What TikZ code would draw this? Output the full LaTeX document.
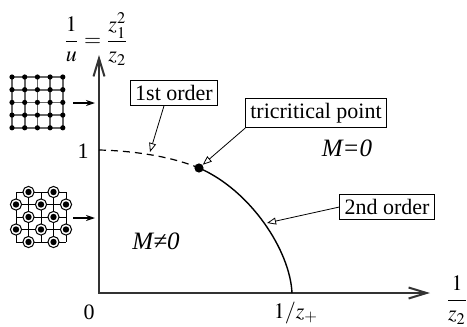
\documentclass[tikz,border=0pt]{standalone}
\usepackage{amsmath}
\usepackage{mathptmx}
\usepackage{fontspec}
\setmainfont{Liberation Serif}
\usetikzlibrary{arrows.meta,positioning}
\tikzset{
  axis/.style={line width=1pt,draw=black!80,{Straight Barb[length=9pt,width=5.5pt]}-{Straight Barb[length=9pt,width=5.5pt]}},
  labelbox/.style={draw,line width=0.5pt,inner sep=2.3pt,fill=white},
  pointer/.style={line width=0.4pt,-{Triangle[open,length=4.5pt,width=3.5pt]}},
  latArrow/.style={line width=0.6pt,-{Stealth[length=4.5pt,width=3pt]}},
  firstLine/.style={dashed,dash pattern=on 3.5pt off 2.5pt,line width=0.6pt},
  secondLine/.style={line width=0.7pt},
  tcpdot/.style={circle,fill,inner sep=0pt,minimum size=4.6pt},
  phase/.style={font=\fontsize{12.5}{14}\selectfont\itshape},
  latline/.style={line width=0.8pt,draw=black!60},
  latline2/.style={line width=0.5pt,draw=black}
}
\begin{document}
\begin{tikzpicture}[x=0.5pt,y=-0.5pt,font=\fontsize{11}{13}\selectfont]
  \useasboundingbox (0,0) rectangle (467,327);

  % axes
  \coordinate (O) at (99,293); \coordinate (ytip) at (99,55); \coordinate (xtip) at (430,293);
  \draw[axis] (ytip) -- (O) -- (xtip);
  \node (ylab) at (96,39) {$\dfrac{1}{u}=\dfrac{z_1^2}{z_2}$};
  \node (xlab) at (457,300) {$\dfrac{1}{z_2}$};
  \node (one) at (83,151) {1};
  \node (zero) at (89,312) {0};
  \node (xcrit) at (296,313) {$1/z_+$};

  % phase boundary: dashed 1st order, solid 2nd order
  \coordinate (u1) at (99,150); \coordinate (xc0) at (292,293);
  \node[tcpdot] (tcp) at (199,168) {};
  \draw[firstLine] (u1) .. controls (140,151) and (175,158) .. (tcp.center);
  \draw[secondLine] (tcp.center) .. controls (250,190) and (290,250) .. (xc0);
  \node[phase] (mzero) at (347,148) {M=0};
  \node[phase] (mnonzero) at (156,241) {M≠0};

  % labels with pointers
  \node[labelbox] (first) at (174,93) {1st order};
  \node[labelbox] (tcpbox) at (316,113) {tricritical point};
  \node[labelbox] (second) at (387,207) {2nd order};
  \coordinate (firsttip) at (150,152); \coordinate (secondtip) at (267,223);
  \draw[pointer] ([xshift=-5pt]first.south) -- (firsttip);
  \draw[pointer] (tcpbox.south west) -- (tcp);
  \draw[pointer] (second.west) -- (secondtip);

  % lattice 1: plain square lattice
  \foreach \i in {0,...,4}{\draw[latline] (12+12.7*\i,77)--(12+12.7*\i,128); \draw[latline] (12,77+12.7*\i)--(63,77+12.7*\i);}
  \foreach \i in {0,...,4}{\foreach \j in {0,...,4}{\fill (12+12.7*\i,77+12.7*\j) circle (2.6);}}
  \coordinate (latA) at (73,103); \coordinate (axA) at (95,103);
  \draw[latArrow] (latA) -- (axA);

  % lattice 2: checkerboard occupied sites
  \foreach \i in {0,...,4}{\draw[latline2] (16+12.5*\i,192)--(16+12.5*\i,242); \draw[latline2] (16,192+12.5*\i)--(66,192+12.5*\i);}
  \foreach \i/\j in {1/0,3/0,0/1,2/1,4/1,1/2,3/2,0/3,2/3,4/3,1/4,3/4}{\draw[fill=white,line width=0.5pt] (16+12.5*\i,192+12.5*\j) circle (5.6); \fill (16+12.5*\i,192+12.5*\j) circle (3.2);}
  \coordinate (latB) at (73,218); \coordinate (axB) at (95,218);
  \draw[latArrow] (latB) -- (axB);
\end{tikzpicture}
\end{document}
